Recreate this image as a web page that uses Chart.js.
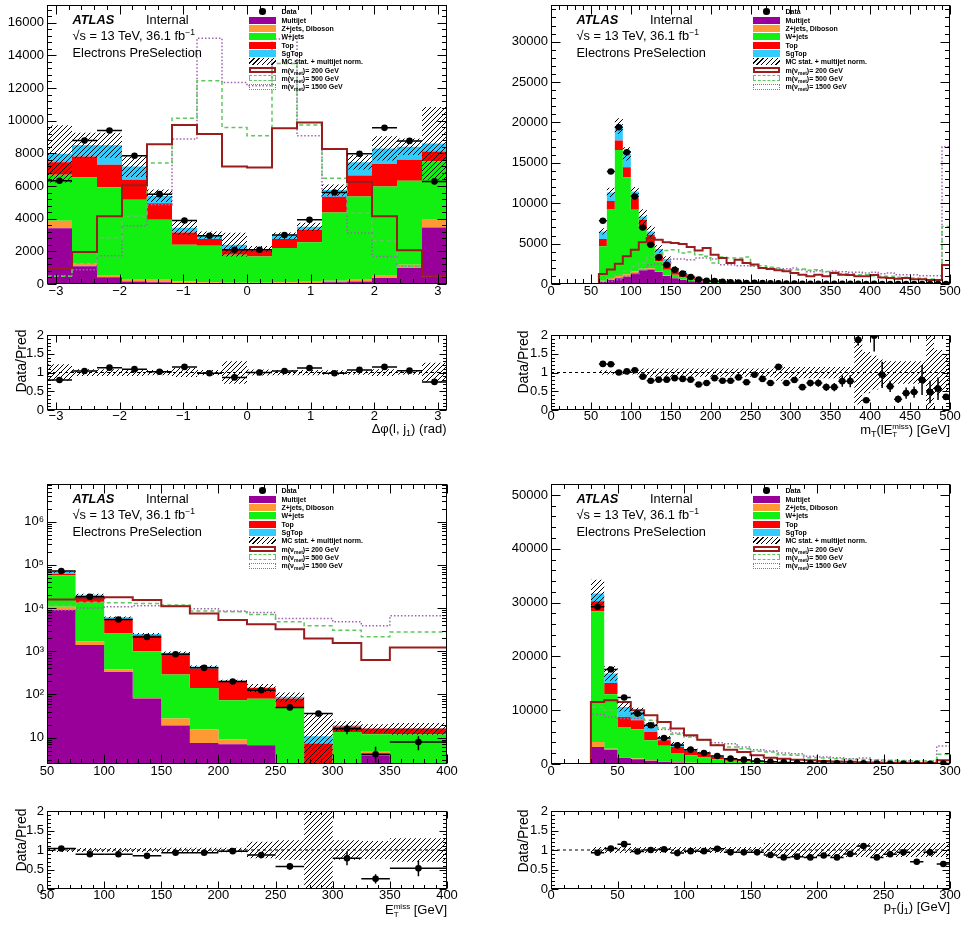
<!DOCTYPE html>
<html lang="en">
<head>
<meta charset="utf-8">
<title>Electrons PreSelection – control distributions</title>
<script src="https://cdn.jsdelivr.net/npm/chart.js@4.4.1/dist/chart.umd.min.js"></script>
<style>
  html, body { margin: 0; padding: 0; background: #fff; }
  body { position: relative; width: 968px; height: 927px; overflow: hidden;
         font-family: 'Liberation Sans', Arial, Helvetica, sans-serif; color: #000; }
  canvas { position: absolute; }
  .t { position: absolute; white-space: nowrap; line-height: 1; font-size: 12.8px; }
  .t sup { font-size: 8.5px; vertical-align: 5px; line-height: 0; }
  .lg { position: absolute; white-space: nowrap; line-height: 1; font-size: 7px; font-weight: bold; }
  .lg sub { font-size: 5px; vertical-align: -2px; line-height: 0; }
  .sw { position: absolute; box-sizing: border-box; }
  .ax { position: absolute; white-space: nowrap; line-height: 1; font-size: 13px; }
  .ax sub { font-size: 9px; vertical-align: -3px; line-height: 0; }
  .ss { display: inline-block; font-size: 8px; line-height: 8px; vertical-align: -3px; }
  .rot { position: absolute; white-space: nowrap; line-height: 1; font-size: 14px;
         transform: translate(-50%, -50%) rotate(-90deg); }
</style>
</head>
<body>
<canvas id="mainDphi" width="465" height="313" style="left:0px;top:-7px"></canvas>
<canvas id="ratioDphi" width="465" height="109" style="left:0px;top:323px"></canvas>
<canvas id="mainMt" width="464" height="313" style="left:504px;top:-7px"></canvas>
<canvas id="ratioMt" width="464" height="109" style="left:504px;top:323px"></canvas>
<canvas id="mainMet" width="465" height="314" style="left:0px;top:472px"></canvas>
<canvas id="ratioMet" width="465" height="112" style="left:0px;top:799px"></canvas>
<canvas id="mainPt" width="464" height="314" style="left:504px;top:472px"></canvas>
<canvas id="ratioPt" width="464" height="112" style="left:504px;top:799px"></canvas>

<script>
// ---------------- Δφ(l, j1) ----------------
const dphiEdges = [-3.1416,-2.7489,-2.3562,-1.9635,-1.5708,-1.1781,-0.7854,-0.3927,0,0.3927,0.7854,1.1781,1.5708,1.9635,2.3562,2.7489,3.1416];
const dphiMultijet = [3420,1080,410,160,100,60,50,40,40,50,60,100,160,370,980,3460];
const dphiZjets    = [450,160,140,100,160,100,50,40,40,50,80,100,100,140,200,470];
const dphiWjets    = [2820,5280,5380,4900,3670,2240,2240,1710,1610,2100,2410,4180,5100,5460,5140,3570];
const dphiTop      = [770,1290,1370,1220,1020,760,410,310,370,550,770,940,1280,1370,1280,610];
const dphiSgTop    = [510,690,1200,820,450,280,250,310,90,200,180,430,810,960,800,490];
const dphiData     = [6320,8780,9400,7850,5500,3890,2955,2100,2100,3000,3930,5600,7970,9560,8760,6280];
const dphiSig200   = [980,1960,4140,6050,8560,9740,9190,7190,7130,9540,9880,8270,6240,4140,2060,510];
const dphiSig500   = [470,1250,2810,4140,7400,10150,12450,9580,9070,13500,9740,6480,4340,2670,1080,510];
const dphiSig1500  = [500,880,1730,3570,4850,8870,15040,12330,12130,15000,9070,5360,3120,1690,1080,470];
const dphiUnc      = [0.22,0.09,0.09,0.09,0.07,0.12,0.07,0.30,0.08,0.07,0.07,0.06,0.06,0.09,0.06,0.26];
const dphiRatio    = [0.80,1.04,1.13,1.09,1.02,1.15,0.98,0.87,1.00,1.04,1.12,0.98,1.07,1.15,1.05,0.75];
const dphiRatioErr = [0.02,0.02,0.02,0.02,0.02,0.02,0.02,0.02,0.02,0.02,0.02,0.02,0.02,0.02,0.02,0.02];

// ---------------- mT(l, MET) ----------------
const mtEdges = [0,10,20,30,40,50,60,70,80,90,100,110,120,130,140,150,160,170,180,190,200,210,220,230,240,250,260,270,280,290,300,310,320,330,340,350,360,370,380,390,400,410,420,430,440,450,460,470,480,490,500];
const mtFirstMcBin = 6; // background and data start at 60 GeV
const mtMultijet = [250,500,700,900,1300,1700,1800,1500,1000,700,500,350,250,150, 65,50,40,33,27,22,19,16,13,11, 9,8,7,6,5,4,3,3,2,2, 2,2,1,1,1,1,1,1,1,2];
const mtZjets    = [150,250,300,300,250,200,150,100,60,40,30,20,15,10, 20,17,14,11,9,8,6,5,4,4, 3,3,2,2,2,1,1,1,1,1, 1,0.5,0.5,0.5,0.5,0.5,0.3,0.3,0.3,1];
const mtWjets    = [4260,8520,15600,11980,7640,4820,2910,1200,710,410,290,200,150,100, 172,139,109,88,72,60,50,42,36,30, 25,20,18,14,12,10,9,7,6,5.5, 4,3.5,3.5,3.5,2.5,2,2.2,1.7,1.4,5.5];
const mtTop      = [900,1000,1150,1280,1440,1230,1240,950,830,540,460,350,280,200, 130,100,80,66,54,45,38,32,26,22, 19,16,13,11,9,8,7,6,5,4, 4,3,3,2,2,2,1.5,1.5,1.3,4];
const mtSgTop    = [950,1070,1800,1650,820,400,410,580,490,290,200,150,120,90, 43,34,27,22,18,15,12,10,9,7, 6,5,4,4,3,3,2,2,2,1.5, 1,1,1,1,1,0.5,0.5,0.5,0.5,1.5];
const mtData     = [7830,13930,19400,16310,10830,7000,4860,3300,2390,1770,1280,870,555,396, 365,265,211,191,133,141,104,76,101,53, 50,32,32,27,19,16,17,15,30,4, 24,9,6,2,3,3,4,2,3,5];
const mtSig200   = [0,0,0,0,0,0, 1240,1800,2520,3430,4250,5160,5700,5490,5160,5080,4950,4580,4160,4460, 3630,3220,2600,3010,2600,2400,1990,1860,1700,1570, 1360,1160,950,1160,950,1360,1150,1100,950,950, 1100,800,750,650,750,600,600,500,500,2350];
const mtSig500   = [0,0,0,0,0,0, 330,740,1150,1570,2180,2600,3340,3630,4160,4240,3830,3960,3630,3420, 2600,3350,3220,3220,3350,2270,2270,2060,1980,1770, 1770,1850,1690,1770,1560,1440,1280,1280,1150,1150, 1030,950,950,830,830,740,700,620,540,7130];
const mtSig1500  = [0,0,0,0,0,0, 120,330,540,950,1280,1690,2390,2470,2600,3090,3090,3010,3210,3220, 3100,2390,2390,2270,2270,2190,2000,1980,1900,1900, 1980,1770,1530,1650,1530,1600,1530,1440,1440,1360, 1440,1280,1360,1150,1150,1150,1030,1030,1030,17000];
const mtUnc      = [0.06,0.05,0.05,0.05,0.05, 0.11,0.11,0.11,0.11,0.11,0.11,0.11,0.11,0.11,0.11,0.11,0.11,0.11,0.11,0.11,0.11,0.11, 0.22, 0.15,0.15,0.15,0.15,0.15,0.15,0.15,0.15,0.15, 0.85,0.55,0.45,0.35,0.3,0.3,0.3,0.3,0.3,1.5,0.6,0.5];
const mtRatio    = [1.23,1.22,1.00,1.03,1.06,0.89,0.78,0.81,0.81,0.85,0.83,0.81,0.68,0.72,0.85,0.78,0.78,0.87,0.74,0.94,0.83,0.72,1.15,0.72,0.80,0.61,0.72,0.72,0.61,0.61,0.77,0.77,1.87,0.26,1.98,0.94,0.63,0.29,0.45,0.48,0.80,0.48,0.57,0.35];
const mtRatioErr = [0.02,0.02,0.02,0.02,0.02,0.02,0.02,0.02,0.02,0.02,0.02,0.02,0.02,0.02,0.02,0.02,0.02,0.02,0.02,0.02,0.02,0.02, 0.08,0.07,0.08,0.08,0.09,0.1,0.1,0.11,0.15,0.16,0.15,0.05,0.42,0.35,0.15,0.1,0.15,0.15,0.4,0.3,0.3,0.05];

// ---------------- E_T^miss (log scale) ----------------
const metEdges    = [50,75,100,125,150,175,200,225,250,275,300,325,350,400];
const metMultijet = [8960,1400,330,80,19,7.5,7,6.6,0,0,0,3.9,0];
const metZjets    = [1740,300,54,3,8.6,7.8,2.1,0.1,0,0,0,1.0,0];
const metWjets    = [47000,11500,2190,917,260,126,64,73,51,0,13.5,7.0,11.9];
const metTop      = [5000,4400,2870,1350,597,257,122,60,29,7.3,4.5,4.3,4.3];
const metSgTop    = [6500,2800,660,170,40,42,11,5,8,3.4,1,0.3,0.5];
const metData     = [72000,18200,5440,2140,850,412,199,125,50,36,16,4.1,7.9];
const metSig200   = [15800,16800,17700,15300,11000,7500,5260,4200,3240,1960,1560,630,1220];
const metSig500   = [11700,13600,13300,12800,11700,8500,8200,7100,4800,3870,3080,2150,2800];
const metSig1500  = [8900,10000,10700,11300,11300,9600,8600,7900,5700,5700,4800,3870,6600];
const metUnc      = [0.05,0.05,0.05,0.05,0.06,0.06,0.06,0.21,0.25,2.4,0.25,0.23,0.3];
const metRatio    = [1.04,0.89,0.89,0.85,0.93,0.93,0.97,0.87,0.58,null,0.79,0.26,0.53];
const metRatioErr = [0.01,0.01,0.02,0.02,0.03,0.05,0.07,0.08,0.08,0,0.18,0.12,0.2];

// ---------------- pT(j1) ----------------
const ptEdges = [0,10,20,30,40,50,60,70,80,90,100,110,120,130,140,150,160,170,180,190,200,210,220,230,240,250,260,270,280,290,300];
const ptFirstMcBin = 3; // background and data start at 30 GeV
const ptMultijet = [3160,2670,1180,870,620,420,300,200,150,110,80,60,45,35,28,22,17,14,11,9,7,6,5,4,3,2,8];
const ptZjets    = [930,180,130,130,80,80,60,40,30,20,15,12,10,8,6,5,4,3,3,2,2,1,1,1,1,1,2];
const ptWjets    = [24320,10110,5580,5460,3710,2900,1700,1400,1050,730,530,430,300,235,185,145,115,92,75,60,48,39,31,25,20,16,55];
const ptTop      = [1860,2110,1860,1670,1550,1000,1100,800,650,450,330,270,180,140,110,86,69,55,45,36,29,23,19,15,12,10,33];
const ptSgTop    = [1430,1740,1860,1570,1240,400,610,310,230,150,115,98,65,52,41,32,25,21,16,13,11,9,7,6,5,4,12];
const ptData     = [29220,17550,12350,9370,7200,4840,3470,2670,2050,1490,990,810,560,410,300,240,186,159,122,108,107,63,56,48,29,31,70];
const ptSig200   = [0,0,0, 11540,11850,11540,9990,9060,7820,6580,5330,4530,3470,2670,2230,1610,1180,990,810,680,560,470,400,330,290,250,220,200,180,690];
const ptSig500   = [0,0,0, 10600,9990,9000,8750,8130,6700,5520,5020,4400,3600,3160,2850,2360,2230,1740,1610,1180,1100,990,900,850,800,680,650,600,580,1800];
const ptSig1500  = [0,0,0, 9180,8750,8440,8500,7500,6390,5770,5150,4400,3970,3780,3160,2670,2420,2050,1920,1430,1300,1180,990,1120,680,650,600,560,520,3350];
const ptUnc      = [0.08,0.08,0.08,0.08,0.08,0.08,0.08,0.08,0.08,0.08,0.08,0.08,0.08, 0.18,0.18,0.18,0.18,0.18,0.18,0.18,0.18,0.18,0.18,0.18,0.18,0.18,0.18];
const ptRatio    = [0.93,1.04,1.15,0.96,1.00,1.02,0.92,0.97,0.97,1.03,0.94,0.94,0.94,0.87,0.81,0.83,0.81,0.86,0.81,0.90,1.10,0.81,0.89,0.94,0.70,0.94,0.64];
const ptRatioErr = [0.01,0.01,0.02,0.02,0.02,0.02,0.03,0.03,0.03,0.03,0.04,0.04,0.04,0.05,0.05,0.05,0.06,0.06,0.06,0.06,0.07,0.06,0.07,0.08,0.07,0.09,0.05];

// ---------------- styling ----------------
const COL = {
  multijet: '#990099', zjets: '#ff9933', wjets: '#12f012', top: '#ff0000', sgtop: '#33ccff',
  sig200: '#9b1c1c', sig500: '#5ec85e', sig1500: '#a062b0'
};
const FONT = "'Liberation Sans', Arial, Helvetica, sans-serif";
Chart.defaults.font.family = FONT;
Chart.defaults.font.size = 13;
Chart.defaults.color = '#000';

// diagonal "////" fill used for the MC uncertainty band
function makeHatch() {
  const c = document.createElement('canvas');
  c.width = 5; c.height = 5;
  const g = c.getContext('2d');
  g.strokeStyle = '#000'; g.lineWidth = 1;
  g.beginPath();
  g.moveTo(-1, 6); g.lineTo(6, -1);
  g.moveTo(-1, 1); g.lineTo(1, -1);
  g.moveTo(4, 6); g.lineTo(6, 4);
  g.stroke();
  return g.createPattern(c, 'repeat');
}
const HATCH = makeHatch();
const CLEAR = 'rgba(0,0,0,0)';

// histogram helpers
function stepPts(edges, vals) {
  const pts = vals.map((v, i) => ({ x: edges[i], y: v }));
  pts.push({ x: edges[vals.length], y: vals[vals.length - 1] });
  return pts;
}
function centres(edges) { return edges.slice(0, -1).map((x, i) => (x + edges[i + 1]) / 2); }
function tickList(min, max, major, minor) {
  const out = [];
  const n0 = Math.ceil(min / minor - 1e-6), n1 = Math.floor(max / minor + 1e-6);
  for (let n = n0; n <= n1; n++) {
    const v = n * minor, r = v / major;
    out.push([v, Math.abs(r - Math.round(r)) < 1e-6]);
  }
  return out;
}
function majors(min, max, step) { return tickList(min, max, step, step).map(t => +t[0].toFixed(6)); }
function logTicks(min, max) {
  const out = [];
  for (let e = Math.floor(Math.log10(min)); e <= Math.ceil(Math.log10(max)); e++)
    for (let m = 1; m <= 9; m++) { const v = m * Math.pow(10, e); if (v >= min && v <= max) out.push([v, m === 1]); }
  return out;
}
function decades(min, max) { return logTicks(min, max).filter(t => t[1]).map(t => t[0]); }
function numLabel(v) { const s = Math.abs(v) < 1e-9 ? '0' : String(+(+v).toFixed(6)); return s.replace('-', '\u2212'); }
const SUP = '⁰¹²³⁴⁵⁶⁷⁸⁹';
function logLabel(v) {
  const n = Math.round(Math.log10(v));
  return n === 1 ? '10' : '10' + String(n).split('').map(d => SUP[+d]).join('');
}

// frame with inward major/minor ticks on all four sides
const rootFrame = {
  id: 'rootFrame',
  afterDraw(chart, args, o) {
    const { ctx, chartArea: a, scales: { x, y } } = chart;
    const L = Math.round(a.left) + 0.5, R = Math.round(a.right) - 0.5;
    const T = Math.round(a.top) + 0.5, B = Math.round(a.bottom) - 0.5;
    ctx.save();
    ctx.strokeStyle = '#000'; ctx.lineWidth = 1;
    ctx.beginPath();
    for (const [v, maj] of tickList(x.min, x.max, o.xMajor, o.xMinor)) {
      const px = Math.round(x.getPixelForValue(v)) + 0.5, len = maj ? o.xLen : o.xLen / 2;
      ctx.moveTo(px, B); ctx.lineTo(px, B - len);
      ctx.moveTo(px, T); ctx.lineTo(px, T + len);
    }
    const yt = o.log ? logTicks(y.min, y.max) : tickList(y.min, y.max, o.yMajor, o.yMinor);
    for (const [v, maj] of yt) {
      const py = Math.round(y.getPixelForValue(v)) + 0.5, len = maj ? o.yLen : o.yLen / 2;
      ctx.moveTo(L, py); ctx.lineTo(L + len, py);
      ctx.moveTo(R, py); ctx.lineTo(R - len, py);
    }
    ctx.stroke();
    ctx.strokeRect(L, T, R - L, B - T);
    ctx.restore();
  }
};

// data error bars: horizontal = bin width, vertical = uncertainty
const errorBars = {
  id: 'errorBars',
  afterDatasetsDraw(chart) {
    const { ctx, chartArea: a, scales: { x, y } } = chart;
    ctx.save();
    ctx.beginPath(); ctx.rect(a.left, a.top, a.right - a.left, a.bottom - a.top); ctx.clip();
    ctx.strokeStyle = '#000'; ctx.lineWidth = 1.5;
    chart.data.datasets.forEach(ds => {
      if (!ds.errBars) return;
      ds.data.forEach((p, i) => {
        if (p.y == null) return;
        const e = ds.errBars[i];
        const py = y.getPixelForValue(p.y), px = x.getPixelForValue(p.x);
        const lo = y.type === 'logarithmic' ? Math.max(e.ylo, y.min / 10) : e.ylo;
        ctx.beginPath();
        ctx.moveTo(x.getPixelForValue(e.xlo), py); ctx.lineTo(x.getPixelForValue(e.xhi), py);
        ctx.moveTo(px, y.getPixelForValue(lo)); ctx.lineTo(px, y.getPixelForValue(e.yhi));
        ctx.stroke();
      });
    });
    ctx.restore();
  }
};
Chart.register(rootFrame, errorBars);

function options(p, stacked) {
  return {
    responsive: false, animation: false, devicePixelRatio: 1, events: [],
    layout: { padding: { top: 12, right: 18, bottom: 0, left: 0 } },
    plugins: {
      legend: { display: false }, tooltip: { enabled: false },
      rootFrame: { xMajor: p.xMajor, xMinor: p.xMinor, yMajor: p.yMajor, yMinor: p.yMinor,
                   log: !!p.log, xLen: p.xLen, yLen: p.yLen }
    },
    scales: {
      x: {
        type: 'linear', min: p.xMin, max: p.xMax, bounds: 'data',
        grid: { display: false, drawTicks: false }, border: { display: false },
        ticks: { padding: p.xPad, maxRotation: 0, autoSkip: false, callback: v => numLabel(v) },
        afterBuildTicks: s => { s.ticks = majors(p.xMin, p.xMax, p.xMajor).map(value => ({ value })); },
        afterFit: s => { s.height = 22; }
      },
      y: {
        type: p.log ? 'logarithmic' : 'linear', stacked, min: p.yMin, max: p.yMax, bounds: 'data',
        grid: { display: false, drawTicks: false }, border: { display: false },
        ticks: { padding: 3, autoSkip: false, callback: v => (p.log ? logLabel(v) : numLabel(v)) },
        afterBuildTicks: s => {
          const vals = p.log ? decades(p.yMin, p.yMax) : majors(p.yMin, p.yMax, p.yMajor);
          s.ticks = vals.map(value => ({ value }));
        },
        afterFit: s => { s.width = 47; }
      }
    }
  };
}

function histPanel(id, p) {
  const e = p.edges;
  // a log axis cannot place an empty contribution, so it is pushed far below the visible floor
  const visible = v => (p.log ? Math.max(v, 1e-3) : v);
  const comps = [[p.multijet, COL.multijet], [p.zjets, COL.zjets], [p.wjets, COL.wjets],
                 [p.top, COL.top], [p.sgtop, COL.sgtop]];
  const total = p.multijet.map((_, i) => comps.reduce((s, c) => s + c[0][i], 0));
  const bandLo = total.map((t, i) => Math.max(t * (1 - p.unc[i]), p.log ? 0.01 : -1e9));
  const bandHi = total.map((t, i) => t * (1 + p.unc[i]));
  const datasets = comps.map(([v, col], i) => ({
    data: stepPts(e, v.map(visible)), stepped: true, backgroundColor: col, borderColor: CLEAR, borderWidth: 0,
    pointRadius: 0, fill: i === 0 ? 'start' : '-1', stack: 'mc', order: 5
  }));
  [[p.sig200, COL.sig200, 2, []], [p.sig500, COL.sig500, 1.5, [4, 3]], [p.sig1500, COL.sig1500, 1.5, [1.5, 2]]]
    .forEach(([v, col, w, dash], k) => datasets.push({
      data: stepPts(p.sigEdges, v), stepped: true, borderColor: col, borderWidth: w, borderDash: dash,
      pointRadius: 0, fill: false, stack: 'signal' + k, order: 3
    }));
  datasets.push({ data: stepPts(e, bandLo), stepped: true, borderColor: CLEAR, borderWidth: 0,
                  pointRadius: 0, fill: false, stack: 'bandLo', order: 2 });
  datasets.push({ data: stepPts(e, bandHi), stepped: true, borderColor: CLEAR, borderWidth: 0,
                  pointRadius: 0, fill: '-1', backgroundColor: HATCH, stack: 'bandHi', order: 2 });
  const xc = centres(e);
  datasets.push({
    data: p.data.map((y, i) => ({ x: xc[i], y })), showLine: false, pointRadius: 3.3,
    pointBackgroundColor: '#000', pointBorderWidth: 0, borderColor: '#000', stack: 'data', order: 0,
    errBars: p.data.map((y, i) => ({ xlo: e[i], xhi: e[i + 1], ylo: y - Math.sqrt(y), yhi: y + Math.sqrt(y) }))
  });
  new Chart(document.getElementById(id), { type: 'line', data: { datasets }, options: options(p, true) });
}

function ratioPanel(id, p) {
  const e = p.edges, xc = centres(e);
  const unity = 1;
  const datasets = [
    { data: [{ x: p.xMin, y: unity }, { x: p.xMax, y: unity }], borderColor: '#000', borderWidth: 1,
      borderDash: [3, 3], pointRadius: 0, fill: false, order: 4 },
    { data: stepPts(e, p.unc.map(u => unity - u)), stepped: true, borderColor: CLEAR, borderWidth: 0,
      pointRadius: 0, fill: false, order: 3 },
    { data: stepPts(e, p.unc.map(u => unity + u)), stepped: true, borderColor: CLEAR, borderWidth: 0,
      pointRadius: 0, fill: '-1', backgroundColor: HATCH, order: 3 },
    { data: p.ratio.map((y, i) => ({ x: xc[i], y })), showLine: false, pointRadius: 3.3,
      pointBackgroundColor: '#000', pointBorderWidth: 0, borderColor: '#000', order: 0,
      errBars: p.ratio.map((y, i) => ({ xlo: e[i], xhi: e[i + 1], ylo: y - p.err[i], yhi: y + p.err[i] })) }
  ];
  const o = Object.assign({ yMin: 0, yMax: 2, yMajor: 0.5, yMinor: 0.1, xPad: -1, xLen: 7, yLen: 7 }, p);
  new Chart(document.getElementById(id), { type: 'line', data: { datasets }, options: options(o, false) });
}

// ---------------- panels ----------------
const mainStyle = { xPad: 0, xLen: 9, yLen: 9 };
histPanel('mainDphi', Object.assign({
  edges: dphiEdges, sigEdges: dphiEdges, multijet: dphiMultijet, zjets: dphiZjets, wjets: dphiWjets,
  top: dphiTop, sgtop: dphiSgTop, data: dphiData, sig200: dphiSig200, sig500: dphiSig500, sig1500: dphiSig1500,
  unc: dphiUnc, xMin: -3.1416, xMax: 3.1416, xMajor: 1, xMinor: 0.2, yMin: 0, yMax: 17080, yMajor: 2000, yMinor: 400
}, mainStyle));
ratioPanel('ratioDphi', { edges: dphiEdges, ratio: dphiRatio, err: dphiRatioErr, unc: dphiUnc,
  xMin: -3.1416, xMax: 3.1416, xMajor: 1, xMinor: 0.2 });

const mtMcEdges = mtEdges.slice(mtFirstMcBin);
histPanel('mainMt', Object.assign({
  edges: mtMcEdges, sigEdges: mtEdges, multijet: mtMultijet, zjets: mtZjets, wjets: mtWjets,
  top: mtTop, sgtop: mtSgTop, data: mtData, sig200: mtSig200, sig500: mtSig500, sig1500: mtSig1500,
  unc: mtUnc, xMin: 0, xMax: 500, xMajor: 50, xMinor: 10, yMin: 0, yMax: 34540, yMajor: 5000, yMinor: 1000
}, mainStyle));
ratioPanel('ratioMt', { edges: mtMcEdges, ratio: mtRatio, err: mtRatioErr, unc: mtUnc,
  xMin: 0, xMax: 500, xMajor: 50, xMinor: 10 });

histPanel('mainMet', Object.assign({
  edges: metEdges, sigEdges: metEdges, multijet: metMultijet, zjets: metZjets, wjets: metWjets,
  top: metTop, sgtop: metSgTop, data: metData, sig200: metSig200, sig500: metSig500, sig1500: metSig1500,
  unc: metUnc, xMin: 50, xMax: 400, xMajor: 50, xMinor: 10, yMin: 2.44, yMax: 7.48e6, log: true
}, mainStyle));
ratioPanel('ratioMet', { edges: metEdges, ratio: metRatio, err: metRatioErr, unc: metUnc,
  xMin: 50, xMax: 400, xMajor: 50, xMinor: 10 });

const ptMcEdges = ptEdges.slice(ptFirstMcBin);
histPanel('mainPt', Object.assign({
  edges: ptMcEdges, sigEdges: ptEdges, multijet: ptMultijet, zjets: ptZjets, wjets: ptWjets,
  top: ptTop, sgtop: ptSgTop, data: ptData, sig200: ptSig200, sig500: ptSig500, sig1500: ptSig1500,
  unc: ptUnc, xMin: 0, xMax: 300, xMajor: 50, xMinor: 10, yMin: 0, yMax: 52040, yMajor: 10000, yMinor: 2000
}, mainStyle));
ratioPanel('ratioPt', { edges: ptMcEdges, ratio: ptRatio, err: ptRatioErr, unc: ptUnc,
  xMin: 0, xMax: 300, xMajor: 50, xMinor: 10 });

// ---------------- text overlays ----------------
function put(cls, html, left, top, extra) {
  const d = document.createElement('div');
  d.className = cls; d.innerHTML = html;
  d.style.left = left + 'px'; d.style.top = top + 'px';
  if (extra) Object.assign(d.style, extra);
  document.body.appendChild(d);
  return d;
}
const legendRows = [
  ['dot', 'Data'], [COL.multijet, 'Multijet'], [COL.zjets, 'Z+jets, Diboson'], [COL.wjets, 'W+jets'],
  [COL.top, 'Top'], [COL.sgtop, 'SgTop'], ['hatch', 'MC stat. + multijet norm.'],
  ['sig200', 'm(ν<sub>met</sub>)= 200 GeV'], ['sig500', 'm(ν<sub>met</sub>)= 500 GeV'],
  ['sig1500', 'm(ν<sub>met</sub>)= 1500 GeV']
];
function panelText(fx, fy) {
  put('t', '<b><i>ATLAS</i></b>', fx + 25.5, fy + 9.3);
  put('t', 'Internal', fx + 99, fy + 9.3);
  put('t', '√s = 13 TeV, 36.1 fb<sup>−1</sup>', fx + 25.5, fy + 25.3);
  put('t', 'Electrons PreSelection', fx + 25.5, fy + 41.9);
  legendRows.forEach(([kind, name], i) => {
    const cy = fy + 6.7 + i * 8.33;
    const sx = fx + 202;
    const st = { left: sx + 'px', top: (cy - 3.5) + 'px', width: '27px', height: '7px' };
    if (kind === 'dot') {
      Object.assign(st, { left: (sx + 10.2) + 'px', top: (cy - 3.3) + 'px', width: '6.6px', height: '6.6px',
                          borderRadius: '50%', background: '#000' });
    } else if (kind === 'hatch') {
      st.background = 'repeating-linear-gradient(135deg, #000 0px, #000 1px, transparent 1px, transparent 3.4px)';
    } else if (kind === 'sig200') {
      Object.assign(st, { top: (cy - 3) + 'px', height: '6px', border: '2px solid ' + COL.sig200 });
    } else if (kind === 'sig500') {
      Object.assign(st, { top: (cy - 3) + 'px', height: '6px', border: '1.5px dashed ' + COL.sig500 });
    } else if (kind === 'sig1500') {
      Object.assign(st, { top: (cy - 3) + 'px', height: '6px', border: '1.5px dotted ' + COL.sig1500 });
    } else {
      st.background = kind;
    }
    const sw = document.createElement('div');
    sw.className = 'sw'; Object.assign(sw.style, st);
    document.body.appendChild(sw);
    put('lg', name, fx + 234.5, cy - 3.5);
  });
}
panelText(47, 5);
panelText(551, 5);
panelText(47, 484);
panelText(551, 484);

// ratio-pad y titles
put('rot', 'Data/Pred', 20.5, 361);
put('rot', 'Data/Pred', 522.5, 362);
put('rot', 'Data/Pred', 20.5, 839.5);
put('rot', 'Data/Pred', 522.5, 840.5);

// x-axis titles, right-aligned to the frame
function xTitle(html, right, top) {
  const d = put('ax', html, 0, top);
  d.style.left = 'auto'; d.style.right = (968 - right) + 'px';
}
xTitle('Δφ(l, j<sub>1</sub>) (rad)', 446.5, 422);
xTitle('m<sub>T</sub>(lE<span class="ss">miss<br>T</span>) [GeV]', 950, 423);
xTitle('E<span class="ss">miss<br>T</span> [GeV]', 447, 903);
xTitle('p<sub>T</sub>(j<sub>1</sub>) [GeV]', 950, 900);
</script>
</body>
</html>
